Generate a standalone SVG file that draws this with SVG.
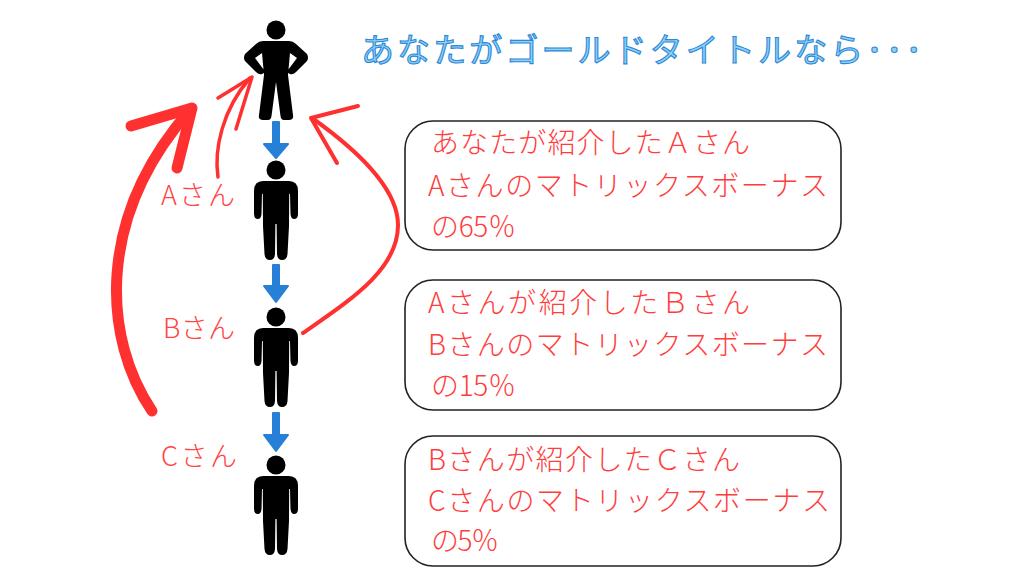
<svg xmlns="http://www.w3.org/2000/svg" width="1024" height="576" viewBox="0 0 1024 576">
<style>
text{font-family:"Noto Sans CJK JP","Noto Sans",sans-serif;font-weight:300}
.t{font-size:28px;fill:#ff3d3d}
.l{font-size:27px;fill:#ff4545}
.box{fill:#fff;stroke:#222;stroke-width:1.6px}
.title{font-size:33px;font-weight:400;fill:#8ed2f5;stroke:#2e88d8;stroke-width:1.1px}
.red{stroke:#ff3030;fill:none;stroke-linecap:round;stroke-linejoin:round}
</style>
<defs>
<path id="man" d="M263 181H289Q298 181 298 191L298 214Q298 219 294 219Q291 219 290.5 214L290 194H289.2L289 226L287.5 254Q287 260 282 260Q277.5 260 277 254L276.6 224H275.4L275 254Q274.5 260 270 260Q265 260 264.5 254L263 226L262.8 194H262L261.5 214Q261 219 258 219Q254 219 254 214L254 191Q254 181 263 181Z"/>
</defs>
<rect width="1024" height="576" fill="#fff"/>
<g id="connectors">
<g fill="#2680d8" stroke="#2680d8" stroke-width="2" stroke-linejoin="round">
<path d="M273 122H279V144H288L276 158L264 144H273Z"/>
<path d="M273 265H279V286H288L276 302L264 286H273Z"/>
<path d="M273 413H279V435H288L276 451L264 435H273Z"/>
</g>
<g class="red" stroke-width="11"><path d="M152 411C104 340 94 220 190 110"/><path d="M131 126L192 108L177 168"/></g>
<g class="red" stroke-width="3.5"><path d="M218 177C214 150 222 110 250 78"/><path d="M218 98L252 77L236 129"/></g>
<g class="red" stroke-width="4"><path d="M303 333C350 300 398 270 398 225C398 185 350 145 312 118"/><path d="M358 106L311 118L337 163"/></g>
</g>
<g id="person-you"><circle cx="276" cy="30" r="9.5"/><path d="M263 41H289Q293 41 296 44L307 54Q309 58 307 61L296 72Q293 75 290 74Q287 73 288 70L297 58L290 53L288 75L293 115Q294 120 289 120H284Q281 120 280.5 116L276 82L271.5 116Q271 120 268 120H263Q258 120 259 115L264 75L262 53L255 58L264 70Q265 73 262 74Q259 75 256 72L245 61Q243 58 245 54L256 44Q259 41 263 41Z"/></g>
<g id="person-a"><circle cx="276" cy="170" r="9.5"/><use href="#man"/><text class="l" x="161" y="205" textLength="74">Aさん</text></g>
<g id="person-b"><circle cx="276" cy="317" r="9.5"/><use href="#man" y="147"/><text class="l" x="163" y="338" textLength="72">Bさん</text></g>
<g id="person-c"><circle cx="276" cy="465" r="9.5"/><use href="#man" y="295"/><text class="l" x="161" y="466" textLength="76">Cさん</text></g>
<g id="title"><text class="title" x="361" y="62" textLength="561">あなたがゴールドタイトルなら･･･</text></g>
<g id="box-a"><rect class="box" x="405" y="121" width="436" height="129" rx="28"/>
<text class="t" x="431" y="153" textLength="319">あなたが紹介したＡさん</text>
<text class="t" x="428" y="196" textLength="400">Aさんのマトリックスボーナス</text>
<text class="t" x="431" y="237" textLength="85">の65％</text></g>
<g id="box-b"><rect class="box" x="405" y="280" width="436" height="130" rx="28"/>
<text class="t" x="428" y="313" textLength="322">Aさんが紹介したＢさん</text>
<text class="t" x="428" y="355" textLength="400">Bさんのマトリックスボーナス</text>
<text class="t" x="431" y="396" textLength="85">の15％</text></g>
<g id="box-c"><rect class="box" x="405" y="436" width="436" height="130" rx="28"/>
<text class="t" x="428" y="470" textLength="312">Bさんが紹介したＣさん</text>
<text class="t" x="428" y="511" textLength="402">Cさんのマトリックスボーナス</text>
<text class="t" x="431" y="551" textLength="68">の5％</text></g>
</svg>
